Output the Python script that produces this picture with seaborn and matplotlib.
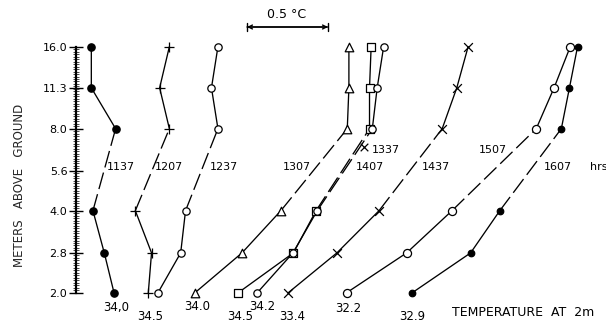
import numpy as np
import pandas as pd
import matplotlib
matplotlib.use("Agg")
import matplotlib.pyplot as plt
from matplotlib.ticker import FixedLocator, NullFormatter
import seaborn as sns

# ---------------- data ----------------
heights = [2.0, 2.8, 4.0, 8.0, 11.3, 16.0]          # measurement heights (m)
tick_heights = [2.0, 2.8, 4.0, 5.6, 8.0, 11.3, 16.0]
tick_labels = ["2.0", "2.8", "4.0", "5.6", "8.0", "11.3", "16.0"]
times = ["1137", "1207", "1237", "1307", "1337", "1407", "1437", "1507", "1607"]

# temperature departure from the 2 m value (deg C, chart scale; + = to the right)
dev_1137 = [0.00, -0.06, -0.13, 0.01, -0.14, -0.14]
dev_1207 = [0.00, 0.02, -0.08, 0.13, 0.07, 0.13]
dev_1237 = [0.00, 0.14, 0.17, 0.37, 0.33, 0.37]
dev_1307 = [0.00, 0.29, 0.53, 0.94, 0.95, 0.95]
dev_1337 = [0.00, 0.34, 0.48, 0.81, 0.81, 0.82]
dev_1407 = [0.00, 0.22, 0.37, 0.71, 0.74, 0.78]
dev_1437 = [0.00, 0.30, 0.56, 0.95, 1.04, 1.11]
dev_1507 = [0.00, 0.37, 0.65, 1.17, 1.28, 1.38]
dev_1607 = [0.00, 0.36, 0.54, 0.92, 0.97, 1.02]
devs = [dev_1137, dev_1207, dev_1237, dev_1307, dev_1337,
        dev_1407, dev_1437, dev_1507, dev_1607]

# temperature at 2 m labels (1237 has none in the original)
temp_2m = {"1137": "34,0", "1207": "34.5", "1307": "34.0", "1337": "34.5",
           "1407": "34.2", "1437": "33.4", "1507": "32.2", "1607": "32.9"}

# ---------------- layout / style ----------------
PX = 162.0                      # pixels per deg C in the figure
W, H = 606, 323
base = [114, 148.3, 158, 195, 238.3, 257.3, 288.3, 346.7, 412.3]   # px of 2 m point
styles = {
    "1137": dict(marker="o", s=28, fc="black"),
    "1207": dict(marker="+", s=55, fc="black"),
    "1237": dict(marker="o", s=28, fc="white"),
    "1307": dict(marker="^", s=38, fc="white"),
    "1337": dict(marker="s", s=28, fc="white"),
    "1407": dict(marker="o", s=28, fc="white"),
    "1437": dict(marker="x", s=40, fc="black"),
    "1507": dict(marker="o", s=34, fc="white"),
    "1607": dict(marker="o", s=22, fc="black"),
}
label_pos = {   # (x px, y px) of the time labels
    "1137": (121, 167), "1207": (169, 167), "1237": (224, 167), "1307": (297, 167),
    "1337": (386, 150), "1407": (370, 167), "1437": (436, 167), "1507": (493, 150),
    "1607": (558, 167),
}
row_y = {"1137": 307, "1207": 316, "1307": 307, "1337": 316,
         "1407": 307, "1437": 316, "1507": 308, "1607": 316}
row_dx = {"1137": 2, "1207": 2, "1307": 2, "1337": 2, "1407": 5,
          "1437": 4, "1507": 2, "1607": 0}

sns.set_style("white")
plt.rcParams["font.family"] = ["DejaVu Sans"]

fig = plt.figure(figsize=(W / 100, H / 100), dpi=100)
ax = fig.add_axes([0, 0, 1, 1])
ax.set_yscale("log", base=2)
oct_px = 82.0
ytop = 16 * 2 ** (46.7 / oct_px)
ybot = 2 / 2 ** ((H - 292.7) / oct_px)
ax.set_xlim(0, W / PX)
ax.set_ylim(ybot, ytop)
ax.patch.set_alpha(0)

lw = 0.95
for t, b, d in zip(times, base, devs):
    x = [b / PX + v for v in d]
    df = pd.DataFrame({"x": x, "h": heights})
    low, mid, up = df.iloc[0:3], df.iloc[2:4], df.iloc[3:6]
    for part, ls in ((low, "-"), (up, "-"), (mid, (0, (13, 4)))):
        sns.lineplot(data=part, x="x", y="h", sort=False, estimator=None,
                     color="black", lw=lw, linestyle=ls, ax=ax, legend=False)
    st = styles[t]
    if st["marker"] in ("+", "x"):
        sns.scatterplot(data=df, x="x", y="h", marker=st["marker"], s=st["s"],
                        color="black", linewidth=0.9, ax=ax, zorder=5, legend=False)
    else:
        sns.scatterplot(data=df, x="x", y="h", marker=st["marker"], s=st["s"],
                        facecolor=st["fc"], edgecolor="black", linewidth=0.9,
                        ax=ax, zorder=5, legend=False)

# pointer cross near 1337 label
def px2data(px, py):
    return px / PX, 16 * 2 ** (-(py - 46.7) / oct_px)
cx, cy = px2data(364, 146.5)
ax.scatter([cx], [cy], marker="x", s=30, color="black", linewidth=0.9, zorder=6)

# y axis as a ruler
for s in ("top", "right", "bottom"):
    ax.spines[s].set_visible(False)
ax.spines["left"].set_position(("data", 75.7 / PX))
ax.spines["left"].set_bounds(2.0, 16.0)
ax.spines["left"].set_linewidth(1.6)
ax.spines["left"].set_color("black")
ax.set_yticks(tick_heights)
ax.set_yticklabels(tick_labels)
ax.yaxis.set_minor_locator(FixedLocator(2 ** np.linspace(1, 4, 100)))
ax.yaxis.set_minor_formatter(NullFormatter())
ax.tick_params(axis="y", which="major", direction="inout", length=10, width=1.0,
               pad=1, labelsize=8, colors="black", left=True)
ax.tick_params(axis="y", which="minor", direction="inout", length=4, width=0.5,
               left=True, colors="black")
ax.set_xticks([])
ax.set_xlabel("")
ax.set_ylabel("")

def ftext(px, py, s, size=8, **kw):
    fig.text(px / W, 1 - py / H, s, fontsize=size, color="black", va="center", **kw)

for t, (lx, ly) in label_pos.items():
    ftext(lx, ly, t, ha="center")
ftext(590, 167, "hrs", ha="left")
for t, lab in temp_2m.items():
    b = base[times.index(t)]
    ftext(b + row_dx[t], row_y[t], lab, size=8.5, ha="center")
ftext(452, 313, "TEMPERATURE  AT  2m", size=9, ha="left")
fig.text(20 / W, 1 - 185 / H, "METERS   ABOVE   GROUND", rotation=90,
         fontsize=8.5, ha="center", va="center")

# 0.5 deg C scale bar
sx0 = 247 / PX
sy = px2data(0, 27)[1]
ax.annotate("", xy=(sx0 + 0.5, sy), xytext=(sx0, sy),
            arrowprops=dict(arrowstyle="<->", lw=1.0, color="black",
                            shrinkA=0, shrinkB=0, mutation_scale=7))
ax.annotate("", xy=(sx0 + 0.5, sy), xytext=(sx0, sy),
            arrowprops=dict(arrowstyle="|-|", lw=1.0, color="black",
                            shrinkA=0, shrinkB=0, mutation_scale=3))
ftext(287, 14, "0.5 \u00b0C", size=9, ha="center")

fig.savefig("out.png", dpi=100)
